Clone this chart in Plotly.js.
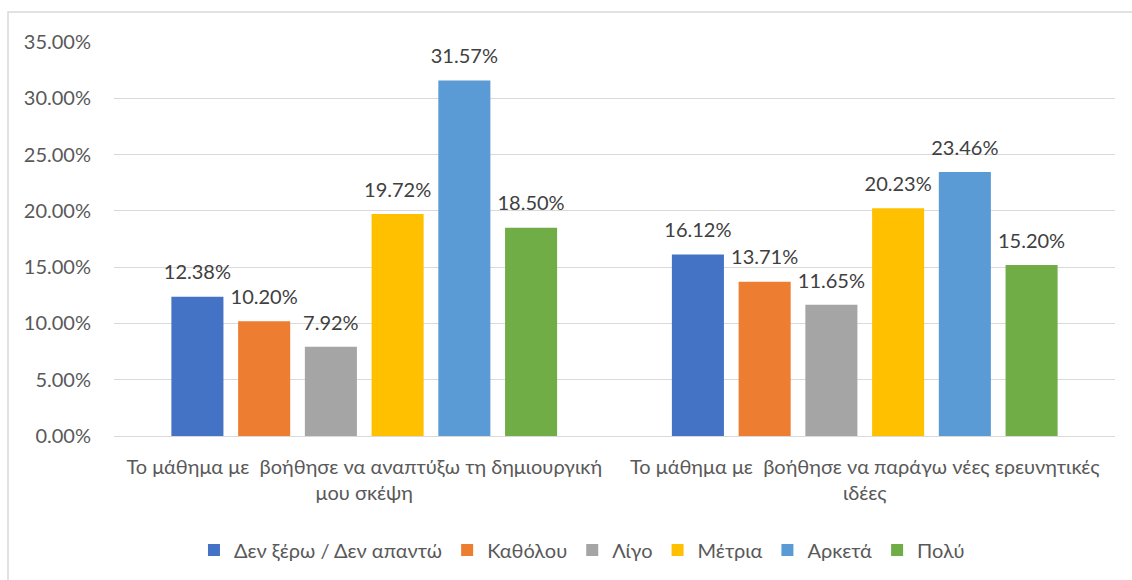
<!DOCTYPE html>
<html>
<head>
<meta charset="utf-8">
<script src="https://cdn.plot.ly/plotly-3.0.1.min.js"></script>
<style>html,body{margin:0;padding:0;background:#fff;}#chart{width:1132px;height:580px;}</style>
</head>
<body>
<div id="chart"></div>
<script>
const categories = [
  "Το μάθημα με  βοήθησε να αναπτύξω τη δημιουργική<br>μου σκέψη",
  "Το μάθημα με  βοήθησε να παράγω νέες ερευνητικές<br>ιδέες"
];
const seriesNames = ["Δεν ξέρω / Δεν απαντώ", "Καθόλου", "Λίγο", "Μέτρια", "Αρκετά", "Πολύ"];
const seriesColors = ["#4472C4", "#ED7D31", "#A5A5A5", "#FFC000", "#5B9BD5", "#70AD47"];
const dontKnow = [0.1238, 0.1612];
const notAtAll = [0.1020, 0.1371];
const little   = [0.0792, 0.1165];
const moderate = [0.1972, 0.2023];
const quite    = [0.3157, 0.2346];
const much     = [0.1850, 0.1520];
const seriesValues = [dontKnow, notAtAll, little, moderate, quite, much];
const yTickVals = [0, 0.05, 0.10, 0.15, 0.20, 0.25, 0.30, 0.35];

const FONT = "Lato, 'Noto Sans', sans-serif";
const traces = [];
seriesValues.forEach((vals, i) => {
  traces.push({
    type: 'bar', x: categories, y: vals, name: seriesNames[i],
    marker: {color: seriesColors[i]}, hoverinfo: 'skip'
  });
});
seriesValues.forEach((vals, i) => {
  traces.push({
    type: 'scatter', mode: 'markers+text', x: categories, y: vals,
    text: vals.map(v => (v * 100).toFixed(2) + '%'),
    textposition: 'top center',
    textfont: {family: FONT, size: 20, color: '#404040'},
    marker: {size: 18, color: 'rgba(0,0,0,0)'},
    showlegend: false, hoverinfo: 'skip', cliponaxis: false
  });
});

const layout = {
  width: 1132, height: 580,
  margin: {l: 114, r: 17, t: 42, b: 143},
  paper_bgcolor: '#ffffff', plot_bgcolor: '#ffffff',
  font: {family: FONT, size: 20, color: '#595959'},
  barmode: 'group', bargap: 0.2, bargroupgap: 0.22,
  scattermode: 'group', scattergap: 0.2,
  showlegend: true,
  legend: {orientation: 'h', x: 0.4675, xanchor: 'center', y: -0.286, yanchor: 'middle',
           font: {family: FONT, size: 20, color: '#595959'}, traceorder: 'normal'},
  xaxis: {type: 'category', showgrid: false, showline: true, linecolor: '#d9d9d9', linewidth: 1,
          ticks: 'outside', ticklen: 13, tickcolor: 'rgba(0,0,0,0)',
          tickfont: {family: FONT, size: 20, color: '#595959'}, zeroline: false, fixedrange: true},
  yaxis: {range: [0, 0.35], tickvals: yTickVals, tickformat: '.2%',
          showgrid: true, gridcolor: '#d9d9d9', gridwidth: 1, zeroline: false, showline: false,
          ticks: 'outside', ticklen: 18, tickcolor: 'rgba(0,0,0,0)',
          tickfont: {family: FONT, size: 20, color: '#595959'}, fixedrange: true},
  shapes: [{type: 'rect', xref: 'paper', yref: 'paper', x0: -0.1059, x1: 1.3, y0: -0.6, y1: 1.0759,
            line: {color: '#d9d9d9', width: 1.5}, fillcolor: 'rgba(0,0,0,0)'}]
};
Plotly.newPlot('chart', traces, layout, {displayModeBar: false, staticPlot: true});
</script>
</body>
</html>
